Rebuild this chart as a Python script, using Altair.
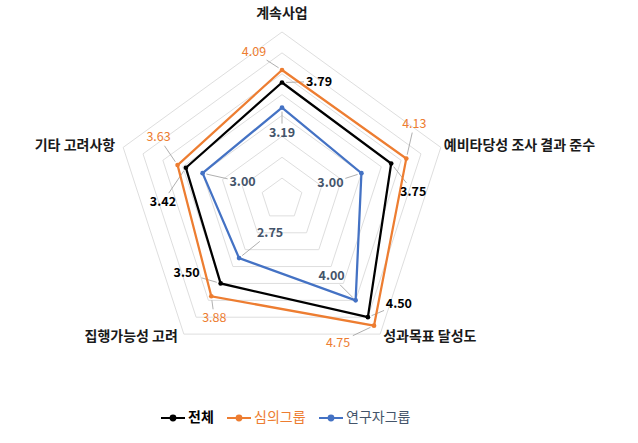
import math
import altair as alt
import pandas as pd

# ---------------- data ----------------
CATEGORIES = ["계속사업", "예비타당성 조사 결과 준수", "성과목표 달성도", "집행가능성 고려", "기타 고려사항"]
SERIES = ["전체", "심의그룹", "연구자그룹"]
VAL_TOTAL = [3.79, 3.75, 4.50, 3.50, 3.42]
VAL_REVIEW = [4.09, 4.13, 4.75, 3.88, 3.63]
VAL_RESEARCH = [3.19, 3.00, 4.00, 2.75, 3.00]
RINGS = [1.5, 2.0, 2.5, 3.0, 3.5, 4.0, 4.5, 5.0]
R_MIN, R_MAX = 1.0, 5.0

# ---------------- style ----------------
COLORS = ["#000000", "#ED7D31", "#4472C4"]
LABEL_COLORS = ["#000000", "#ED7D31", "#44546A"]
LABEL_WEIGHTS = ["bold", "normal", "bold"]
FONT = "Noto Sans CJK KR"
W, H = 638, 443
CX, CY = 282, 199          # pixel centre of the radar
PX = 41.75                 # pixels per unit
# pixel offsets (dx, dy) of each value label from its point
LABEL_OFFSETS = {
    "전체": [(37, -1), (22, 28), (31, -13), (-34, -10), (-23, 34)],
    "심의그룹": [(-28, -18), (8, -35), (-36, 17), (3, 22), (-19, -28)],
    "연구자그룹": [(0, 25), (-31, 10), (-24, -24), (31, -25), (40, 9)],
}
CAT_OFFSETS = [(0, -18), (3, -1), (3, 3), (-6, 3), (-8, -1)]
CAT_ALIGN = ["center", "left", "left", "right", "right"]

N = len(CATEGORIES)


def polar(v, i):
    a = 2 * math.pi * i / N
    r = v - R_MIN
    return r * math.sin(a), r * math.cos(a)


# grid rings
grid_rows = []
for ring in RINGS:
    for k in range(N + 1):
        x, y = polar(ring, k % N)
        grid_rows.append({"ring": ring, "k": k, "x": x, "y": y})
grid = pd.DataFrame(grid_rows)

# series
values = {"전체": VAL_TOTAL, "심의그룹": VAL_REVIEW, "연구자그룹": VAL_RESEARCH}
line_rows, pt_rows, lead_rows = [], [], []
for s in SERIES:
    vals = values[s]
    for k in range(N + 1):
        i = k % N
        x, y = polar(vals[i], i)
        line_rows.append({"series": s, "k": k, "x": x, "y": y})
    for i in range(N):
        x, y = polar(vals[i], i)
        dx, dy = LABEL_OFFSETS[s][i]
        pt_rows.append({
            "series": s, "cat": CATEGORIES[i], "value": vals[i],
            "label": f"{vals[i]:.2f}", "x": x, "y": y,
            "lx": x + dx / PX, "ly": y - dy / PX,
        })
        d = math.hypot(dx, dy)
        sx = 13 / abs(dx) if dx else 1e9
        sy = 7 / abs(dy) if dy else 1e9
        sfrac = min(sx, sy)
        L = d * (1 - sfrac) - 2
        if L - 4 > 3:
            ux, uy = dx / d, dy / d
            lead_rows.append({
                "series": s,
                "x": x + ux * 4 / PX, "y": y - uy * 4 / PX,
                "x2": x + ux * L / PX, "y2": y - uy * L / PX,
            })
lines = pd.DataFrame(line_rows)
pts = pd.DataFrame(pt_rows)
leads = pd.DataFrame(lead_rows)

cat_rows = []
for i, c in enumerate(CATEGORIES):
    x, y = polar(R_MAX, i)
    dx, dy = CAT_OFFSETS[i]
    cat_rows.append({"cat": c, "align": CAT_ALIGN[i], "x": x + dx / PX, "y": y - dy / PX})
cats = pd.DataFrame(cat_rows)

xs = alt.Scale(domain=[-CX / PX, (W - CX) / PX], nice=False, zero=False)
ys = alt.Scale(domain=[-(H - CY) / PX, CY / PX], nice=False, zero=False)
X = alt.X("x:Q", scale=xs, axis=None)
Y = alt.Y("y:Q", scale=ys, axis=None)

color_scale = alt.Scale(domain=SERIES, range=COLORS)

grid_layer = alt.Chart(grid).mark_line(color="#dedede", strokeWidth=1).encode(
    x=X, y=Y, detail="ring:N", order="k:Q"
)

lead_layer = alt.Chart(leads).mark_rule(color="#a6a6a6", strokeWidth=0.9).encode(
    x=X, y=Y, x2="x2:Q", y2="y2:Q"
)

legend_label_color = (
    "datum.label == '전체' ? '#000000' : datum.label == '심의그룹' ? '#ED7D31' : '#44546A'"
)
legend_label_weight = "datum.label == '전체' ? 'bold' : 'normal'"

line_layer = alt.Chart(lines).mark_line(strokeWidth=2.25).encode(
    x=X, y=Y, order="k:Q",
    color=alt.Color(
        "series:N", scale=color_scale, sort=SERIES,
        legend=alt.Legend(
            title=None, orient="none", legendX=160, legendY=405,
            direction="horizontal", labelFont=FONT, labelFontSize=14,
            labelColor=alt.ExprRef(legend_label_color),
            labelFontWeight=alt.ExprRef(legend_label_weight),
            symbolType="M-1,0L1,0M-0.2,0A0.2,0.2 0 1,0 0.2,0A0.2,0.2 0 1,0 -0.2,0Z",
            symbolSize=576, symbolStrokeWidth=2, columnPadding=9, labelOffset=2,
        ),
    ),
)

point_layer = alt.Chart(pts).mark_circle(size=22, opacity=1).encode(
    x=X, y=Y, color=alt.Color("series:N", scale=color_scale, legend=None)
)

text_layers = []
for s, c, w in zip(SERIES, LABEL_COLORS, LABEL_WEIGHTS):
    text_layers.append(
        alt.Chart(pts).transform_filter(alt.datum.series == s)
        .mark_text(font=FONT, fontSize=12.5, fontWeight=w, color=c, baseline="middle", align="center")
        .encode(x=alt.X("lx:Q", scale=xs, axis=None), y=alt.Y("ly:Q", scale=ys, axis=None), text="label:N")
    )

cat_layers = []
for al in ["center", "left", "right"]:
    cat_layers.append(
        alt.Chart(cats).transform_filter(alt.datum.align == al)
        .mark_text(font=FONT, fontSize=14, fontWeight="bold", color="#1a1a1a", baseline="middle", align=al)
        .encode(x=X, y=Y, text="cat:N")
    )

chart = alt.layer(grid_layer, lead_layer, line_layer, point_layer, *text_layers, *cat_layers).properties(
    width=W, height=H, padding=0, autosize=alt.AutoSizeParams(type="none"),
    background="white",
).configure_view(stroke=None)

chart.save("out.html", embed_options={"renderer": "svg", "actions": False})
